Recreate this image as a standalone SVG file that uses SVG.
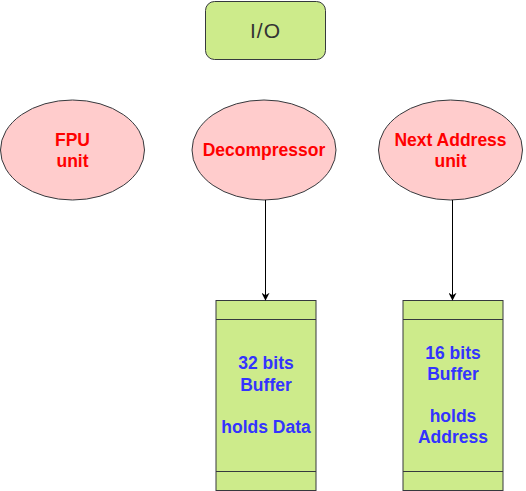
<svg xmlns="http://www.w3.org/2000/svg" width="526" height="491" viewBox="0 0 526 491">
<defs>
<style>
.g{fill:#cdeb8b;stroke:#36393d;stroke-width:1}
.e{fill:#ffcccc;stroke:#36393d;stroke-width:1}
.rt{font-family:"Liberation Sans",Arial,sans-serif;font-size:17.5px;font-weight:bold;fill:#ff0000;text-anchor:middle}
.bt{font-family:"Liberation Sans",Arial,sans-serif;font-size:17.5px;font-weight:bold;fill:#3333ff;text-anchor:middle}
.c{stroke:#000;stroke-width:1;fill:none;marker-end:url(#a)}
</style>
<marker id="a" viewBox="0 0 10 10" refX="9" refY="5" markerWidth="8" markerHeight="8" markerUnits="userSpaceOnUse" orient="auto">
<path d="M0,0 L10,5 L0,10 L3,5 Z" fill="#000"/>
</marker>
</defs>
<rect width="526" height="491" fill="#fff"/>
<g id="io">
<rect class="g" x="205.5" y="1.5" width="120" height="58" rx="9"/>
<text x="265.5" y="37.5" font-family="Liberation Sans,Arial,sans-serif" font-size="21" fill="#333" text-anchor="middle" letter-spacing="1">I/O</text>
</g>
<g id="fpu">
<ellipse class="e" cx="72.5" cy="150" rx="72" ry="50"/>
<text class="rt" x="72.5" y="146">FPU</text>
<text class="rt" x="72.5" y="166.5">unit</text>
</g>
<g id="decompressor">
<ellipse class="e" cx="264" cy="150" rx="72" ry="50"/>
<text class="rt" x="264" y="156">Decompressor</text>
</g>
<g id="nextaddr">
<ellipse class="e" cx="450.5" cy="150" rx="72" ry="50"/>
<text class="rt" x="450.5" y="146">Next Address</text>
<text class="rt" x="450.5" y="166.5">unit</text>
</g>
<g id="buf32">
<rect class="g" x="216" y="300.5" width="100" height="190"/>
<line x1="216" y1="319.5" x2="316" y2="319.5" stroke="#36393d"/>
<line x1="216" y1="471.5" x2="316" y2="471.5" stroke="#36393d"/>
<text class="bt" x="266" y="369">32 bits</text>
<text class="bt" x="266" y="390.5">Buffer</text>
<text class="bt" x="266" y="432.5">holds Data</text>
</g>
<g id="buf16">
<rect class="g" x="403" y="300.5" width="100" height="190"/>
<line x1="403" y1="319.5" x2="503" y2="319.5" stroke="#36393d"/>
<line x1="403" y1="471.5" x2="503" y2="471.5" stroke="#36393d"/>
<text class="bt" x="453" y="358.5">16 bits</text>
<text class="bt" x="453" y="380">Buffer</text>
<text class="bt" x="453" y="421.5">holds</text>
<text class="bt" x="453" y="442.5">Address</text>
</g>
<g id="connectors">
<line class="c" x1="265.5" y1="200" x2="265.5" y2="300"/>
<line class="c" x1="452.5" y1="200" x2="452.5" y2="300"/>
</g>
</svg>
